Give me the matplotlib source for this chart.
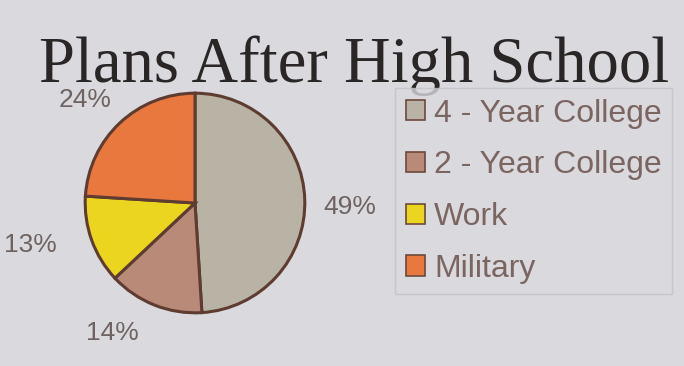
import matplotlib.pyplot as plt
from matplotlib.patches import Patch

# data
plans = ["4 - Year College", "2 - Year College", "Work", "Military"]
shares = [49, 14, 13, 24]
colors = ["#b8b3a4", "#b98a77", "#ecd51f", "#e9783f"]

# where the percentage labels sit (pie data units, radius 1)
label_pos = [(1.41, -0.04), (-0.75, -1.18), (-1.50, -0.38), (-1.00, 0.94)]

bg = "#d9d9de"
txt = "#6e6360"

fig = plt.figure(figsize=(6.84, 3.66), dpi=100, facecolor=bg)

# pie axes: centre ~ (195, 203) px, radius ~ 112 px
ax = fig.add_axes([83 / 684, 51 / 366, 224 / 684, 224 / 366])
ax.set_facecolor(bg)
wedges, _, pcts = ax.pie(
    shares, colors=colors, startangle=90, counterclock=False,
    autopct=lambda p: f"{p:.0f}%", pctdistance=1.42,
    wedgeprops=dict(edgecolor="#5e3c30", linewidth=2.2),
    textprops=dict(color=txt, fontsize=19, family="Liberation Sans"),
)
for t, pos in zip(pcts, label_pos):
    t.set_position(pos)
ax.set_xlim(-1.02, 1.02)
ax.set_ylim(-1.02, 1.02)
ax.set_aspect("equal")
ax.axis("off")

fig.text(354 / 684, 1 - 82 / 366, "Plans After High School",
         ha="center", va="baseline", fontsize=46.5,
         family="Liberation Serif", color="#2a2626")

handles = [Patch(facecolor=c, edgecolor="#6b4a3e", linewidth=1.2) for c in colors]
leg = fig.legend(handles, plans, loc="upper left",
                 bbox_to_anchor=(395 / 684, 1 - 88 / 366),
                 frameon=True, fancybox=False, facecolor=bg, edgecolor="#c4c2c2",
                 prop=dict(family="Liberation Sans", size=23),
                 labelcolor="#7a6561", handlelength=0.6, handleheight=0.6,
                 handletextpad=0.3, labelspacing=0.68, borderpad=0.33,
                 borderaxespad=0)
leg.get_frame().set_linewidth(1)

fig.savefig("out.png", dpi=100, facecolor=bg)
